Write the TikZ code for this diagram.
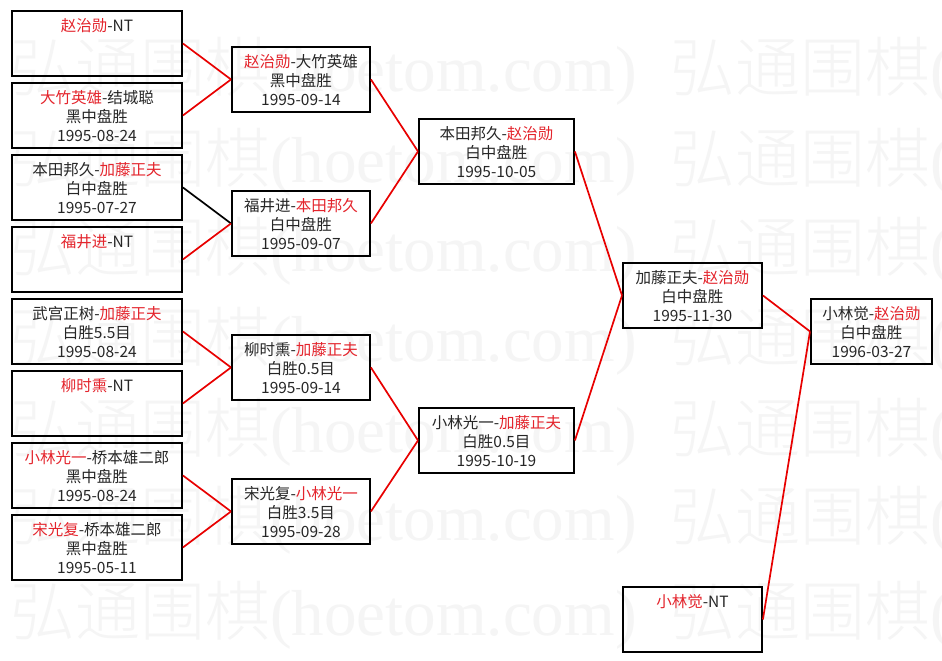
\documentclass[tikz,border=0pt]{standalone}
\usepackage{fontspec}
\setmainfont{Noto Sans CJK SC}
\newfontfamily\wmcjk{Noto Sans CJK SC Light}
\newfontfamily\wmlat{Liberation Serif}
\definecolor{winred}{RGB}{228,36,44}
\definecolor{linered}{RGB}{232,0,0}
\definecolor{wmgray}{RGB}{245,245,245}
\newcommand{\rd}[1]{\textcolor{winred}{#1}}
\newcommand{\gtext}[2]{\parbox[c][65pt][t]{#1pt}{\centering\rule{0pt}{21pt}#2}}
\tikzset{
  game/.style={draw=black, line width=1.9pt, rectangle, inner sep=0pt,
    anchor=north west, text=black!85, font=\fontsize{15.5}{19}\selectfont},
  winline/.style={draw=linered, line width=1.7pt},
  loseline/.style={draw=black, line width=1.7pt},
  wmark/.style={text=wmgray, anchor=base west, inner sep=0pt, font=\fontsize{65}{70}\selectfont}
}
\begin{document}
\begin{tikzpicture}[x=1pt,y=-1pt]
\useasboundingbox (0,0) rectangle (942,661);
\fill[white] (0,0) rectangle (942,661);
\begin{scope}
\clip (0,0) rectangle (942,661);
\foreach \yy [count=\i] in {67,157,246,336,427,515,610}{
  \foreach \xx [count=\j] in {10,670}{
    \node[wmark] (wm-\i-\j) at (\xx,\yy+25) {\wmcjk 弘通围棋\wmlat (hoetom.com)};
  }
}
\end{scope}
% round 1
\node[game] (c1a) at (11,10)  {\gtext{170}{\rd{赵治勋}-NT}};
\node[game] (c1b) at (11,82)  {\gtext{170}{\rd{大竹英雄}-结城聪\\黑中盘胜\\1995-08-24}};
\node[game] (c1c) at (11,154) {\gtext{170}{本田邦久-\rd{加藤正夫}\\白中盘胜\\1995-07-27}};
\node[game] (c1d) at (11,226) {\gtext{170}{\rd{福井进}-NT}};
\node[game] (c1e) at (11,298) {\gtext{170}{武宫正树-\rd{加藤正夫}\\白胜5.5目\\1995-08-24}};
\node[game] (c1f) at (11,370) {\gtext{170}{\rd{柳时熏}-NT}};
\node[game] (c1g) at (11,442) {\gtext{170}{\rd{小林光一}-桥本雄二郎\\黑中盘胜\\1995-08-24}};
\node[game] (c1h) at (11,514) {\gtext{170}{\rd{宋光复}-桥本雄二郎\\黑中盘胜\\1995-05-11}};
% round 2
\node[game] (c2a) at (231,46)  {\gtext{138}{\rd{赵治勋}-大竹英雄\\黑中盘胜\\1995-09-14}};
\node[game] (c2b) at (231,190) {\gtext{138}{福井进-\rd{本田邦久}\\白中盘胜\\1995-09-07}};
\node[game] (c2c) at (231,334) {\gtext{138}{柳时熏-\rd{加藤正夫}\\白胜0.5目\\1995-09-14}};
\node[game] (c2d) at (231,478) {\gtext{138}{宋光复-\rd{小林光一}\\白胜3.5目\\1995-09-28}};
% round 3
\node[game] (c3a) at (418,118) {\gtext{155}{本田邦久-\rd{赵治勋}\\白中盘胜\\1995-10-05}};
\node[game] (c3b) at (418,407) {\gtext{155}{小林光一-\rd{加藤正夫}\\白胜0.5目\\1995-10-19}};
% round 4
\node[game] (c4) at (622,262) {\gtext{139}{加藤正夫-\rd{赵治勋}\\白中盘胜\\1995-11-30}};
\node[game] (nt) at (622,586) {\gtext{139}{\rd{小林觉}-NT}};
% final
\node[game] (c5) at (810,298) {\gtext{121}{小林觉-\rd{赵治勋}\\白中盘胜\\1996-03-27}};
% connectors
\draw[winline]  (c1a.east) -- (c2a.west);
\draw[winline]  (c1b.east) -- (c2a.west);
\draw[loseline] (c1c.east) -- (c2b.west);
\draw[winline]  (c1d.east) -- (c2b.west);
\draw[winline]  (c1e.east) -- (c2c.west);
\draw[winline]  (c1f.east) -- (c2c.west);
\draw[winline]  (c1g.east) -- (c2d.west);
\draw[winline]  (c1h.east) -- (c2d.west);
\draw[winline]  (c2a.east) -- (c3a.west);
\draw[winline]  (c2b.east) -- (c3a.west);
\draw[winline]  (c2c.east) -- (c3b.west);
\draw[winline]  (c2d.east) -- (c3b.west);
\draw[winline]  (c3a.east) -- (c4.west);
\draw[winline]  (c3b.east) -- (c4.west);
\draw[winline]  (c4.east) -- (c5.west);
\draw[winline]  (nt.east) -- (c5.west);
\end{tikzpicture}
\end{document}
